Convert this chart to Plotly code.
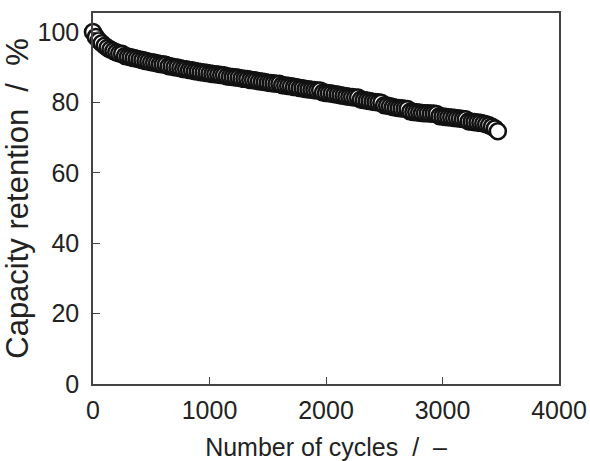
import plotly.graph_objects as go

cycles = list(range(0, 3500, 25))
retention = [
    100.0, 98.6, 97.6, 96.8, 96.1, 95.5, 95.0, 94.6, 94.2, 93.9,
    93.8, 93.2, 93.0, 92.8, 92.6, 92.4, 92.2, 92.0, 91.8, 91.6,
    91.4, 91.3, 91.1, 90.9, 90.8, 90.7, 90.3, 90.2, 90.0, 89.9,
    89.7, 89.5, 89.4, 89.2, 89.1, 88.9, 88.8, 88.6, 88.5, 88.4,
    88.2, 88.1, 88.0, 87.9, 87.8, 87.7, 87.4, 87.3, 87.2, 87.1,
    87.0, 86.8, 86.7, 86.6, 86.4, 86.3, 86.2, 86.0, 85.9, 85.8,
    85.6, 85.5, 85.4, 85.3, 85.3, 84.9, 84.8, 84.7, 84.6, 84.4,
    84.3, 84.1, 84.0, 83.8, 83.7, 83.6, 83.5, 83.4, 83.4, 82.8,
    82.7, 82.6, 82.5, 82.3, 82.2, 82.0, 81.9, 81.7, 81.6, 81.5,
    81.4, 81.4, 80.8, 80.7, 80.5, 80.4, 80.2, 80.1, 80.0, 79.9,
    79.2, 79.1, 78.9, 78.7, 78.5, 78.4, 78.3, 78.2, 78.1, 77.4,
    77.3, 77.2, 77.1, 77.0, 76.9, 76.9, 76.8, 76.8, 76.7, 76.1,
    76.0, 75.9, 75.8, 75.7, 75.6, 75.5, 75.4, 75.3, 75.2, 74.6,
    74.5, 74.4, 74.3, 74.2, 74.0, 73.8, 73.5, 73.1, 72.6, 71.8,
]
x_ticks = [0, 1000, 2000, 3000, 4000]
y_ticks = [0, 20, 40, 60, 80, 100]

fig = go.Figure(go.Scatter(
    x=cycles, y=retention, mode="markers", cliponaxis=False,
    marker=dict(symbol="circle", size=16, color="white",
                line=dict(color="#111111", width=2.6)),
))

tick_font = dict(family="Liberation Sans, Arial, sans-serif", size=25, color="#222222")
xtitle_font = dict(family="Liberation Sans, Arial, sans-serif", size=25, color="#222222")
ytitle_font = dict(family="Liberation Sans, Arial, sans-serif", size=31, color="#222222")
axis_common = dict(showline=True, linecolor="#444444", linewidth=1.5, mirror=True,
                   ticks="inside", ticklen=7, tickwidth=1.2, tickcolor="#444444",
                   showgrid=False, zeroline=False, tickfont=tick_font, automargin=False)

fig.update_layout(
    width=590, height=461, margin=dict(l=93, r=31, t=13, b=77),
    paper_bgcolor="white", plot_bgcolor="white", showlegend=False,
    font=tick_font,
    xaxis=dict(range=[0, 4000], tickvals=x_ticks, ticklabelstandoff=3,
               title=dict(text="Number of cycles  /  \u2013", font=xtitle_font, standoff=18),
               **axis_common),
    yaxis=dict(range=[0, 105.4], tickvals=y_ticks, ticklabelstandoff=7,
               title=dict(text="Capacity retention  /  %", font=ytitle_font, standoff=0),
               **axis_common),
)

fig.write_html("out.html", config={"displayModeBar": False},
               post_script="document.body.style.margin='0px';")
